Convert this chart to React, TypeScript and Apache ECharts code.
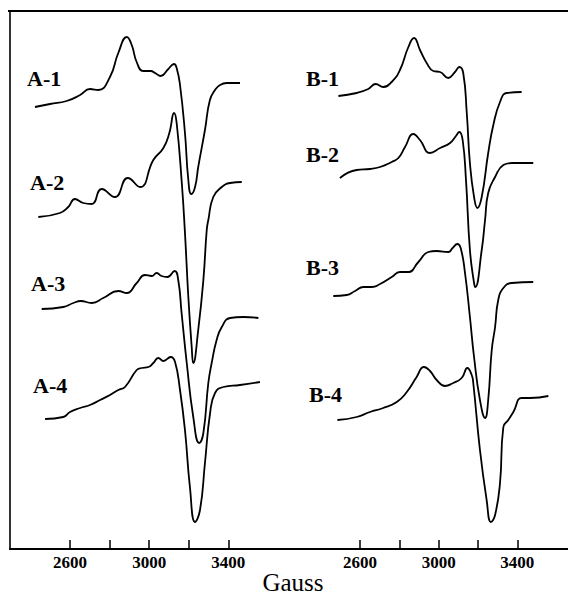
import React, { useEffect, useRef } from "react";
import * as echarts from "echarts";

// Magnetic field (Gauss) and derivative signal (relative units, baseline at left = 0)
const fieldA1 = [2423, 2499, 2583, 2651, 2701, 2743, 2802, 2844, 2887, 2912, 2937, 2970, 3008, 3030, 3058, 3097, 3126, 3139, 3156, 3181, 3198, 3213, 3232, 3248, 3282, 3307, 3333, 3358, 3392, 3459];
const signalA1 = [0, 3, 6, 12, 18, 17, 30, 54, 70, 62, 45, 36, 36, 34, 31, 38, 43, 39, 22, -26, -73, -87, -80, -60, -23, 7, 17, 22, 24, 24];

const fieldA2 = [2440, 2549, 2591, 2625, 2667, 2710, 2760, 2827, 2892, 2954, 3021, 3072, 3102, 3126, 3139, 3165, 3181, 3198, 3215, 3223, 3248, 3274, 3291, 3299, 3324, 3367, 3409, 3468];
const signalA2 = [0, 4, 10, 18, 14, 13, 28, 20, 39, 30, 57, 69, 84, 104, 94, 34, -16, -80, -130, -146, -113, -63, -13, -3, 20, 30, 34, 35];

const fieldA3 = [2457, 2566, 2617, 2654, 2710, 2768, 2844, 2887, 2937, 2979, 3013, 3038, 3063, 3092, 3129, 3147, 3164, 3190, 3223, 3253, 3274, 3299, 3316, 3341, 3367, 3409, 3476, 3552];
const signalA3 = [0, 2, 6, 8, 6, 11, 18, 16, 26, 34, 33, 36, 33, 32, 38, 29, -4, -54, -108, -134, -124, -74, -54, -31, -18, -9, -8, -9];

const fieldA4 = [2474, 2566, 2600, 2651, 2701, 2752, 2802, 2844, 2878, 2937, 2962, 2996, 3021, 3046, 3072, 3109, 3131, 3156, 3181, 3206, 3232, 3257, 3282, 3308, 3333, 3375, 3459, 3560];
const signalA4 = [0, 2, 7, 11, 14, 19, 24, 29, 32, 49, 51, 52, 56, 61, 58, 62, 57, 29, -11, -68, -103, -91, -44, 6, 26, 32, 34, 37];

const fieldB1 = [2490, 2583, 2642, 2680, 2718, 2761, 2803, 2846, 2875, 2905, 2939, 2973, 3007, 3049, 3083, 3105, 3125, 3143, 3159, 3180, 3197, 3219, 3252, 3278, 3312, 3346, 3422];
const signalB1 = [0, 3, 7, 12, 9, 14, 26, 49, 58, 46, 33, 25, 24, 18, 24, 29, 23, -17, -67, -101, -112, -101, -57, -29, -6, 3, 4];

const fieldB2 = [2498, 2583, 2651, 2702, 2761, 2795, 2829, 2871, 2905, 2956, 3007, 3058, 3088, 3105, 3122, 3139, 3159, 3180, 3186, 3219, 3236, 3252, 3287, 3329, 3372, 3481];
const signalB2 = [0, 8, 9, 11, 16, 20, 31, 44, 38, 25, 30, 35, 42, 46, 38, -2, -72, -105, -109, -72, -42, -15, 1, 13, 15, 15];

const fieldB3 = [2464, 2532, 2575, 2617, 2660, 2702, 2761, 2803, 2846, 2897, 2947, 2990, 3049, 3071, 3095, 3112, 3134, 3159, 3180, 3210, 3236, 3252, 3270, 3287, 3303, 3329, 3372, 3481];
const signalB3 = [0, 1, 5, 9, 9, 12, 19, 24, 24, 34, 44, 45, 44, 48, 52, 48, 23, -21, -61, -104, -122, -104, -54, -31, -4, 8, 13, 14];

const fieldB4 = [2485, 2583, 2651, 2718, 2787, 2838, 2888, 2925, 2956, 2990, 3032, 3074, 3117, 3146, 3168, 3176, 3210, 3244, 3266, 3287, 3312, 3329, 3354, 3380, 3422, 3465, 3558];
const signalB4 = [0, 3, 8, 12, 18, 28, 43, 53, 49, 40, 34, 37, 42, 52, 45, 37, -30, -80, -102, -95, -63, -7, 0, 8, 22, 22, 24];

// Vertical offsets of each trace (stacking)
const offsetsA = [442, 332, 240, 130];
const offsetsB = [453, 371, 253, 129];

const labelsA = ["A-1", "A-2", "A-3", "A-4"];
const labelsB = ["B-1", "B-2", "B-3", "B-4"];

const tickValues = [2600, 2800, 3000, 3200, 3400];
const tickLabelValues = [2600, 3000, 3400];
const xTitle = "Gauss";

const tracesA = [
  [fieldA1, signalA1],
  [fieldA2, signalA2],
  [fieldA3, signalA3],
  [fieldA4, signalA4],
];
const tracesB = [
  [fieldB1, signalB1],
  [fieldB2, signalB2],
  [fieldB3, signalB3],
  [fieldB4, signalB4],
];

const serif = "'Liberation Serif', 'DejaVu Serif', serif";

export default function App() {
  const ref = useRef<HTMLDivElement>(null);
  useEffect(() => {
    if (!ref.current) return;
    const chart = echarts.init(ref.current, null, { renderer: "svg" });

    const makeSeries = (traces: number[][][], offsets: number[], gi: number) =>
      traces.map(([f, s], i) => ({
        type: "line",
        xAxisIndex: gi,
        yAxisIndex: gi,
        data: f.map((g, k) => [g, offsets[i] + s[k]]),
        smooth: 0.5,
        showSymbol: false,
        symbol: "none",
        clip: false,
        lineStyle: { color: "#000", width: 1.8 },
      }));

    const xAxisBase = (gi: number, min: number, max: number) => ({
      type: "value",
      gridIndex: gi,
      min,
      max,
      axisLine: { show: true, lineStyle: { color: "#000", width: 2 } },
      axisTick: {
        show: true,
        inside: true,
        length: 9,
        customValues: tickValues,
        lineStyle: { color: "#000", width: 1.5 },
      },
      axisLabel: {
        customValues: tickLabelValues,
        formatter: (v: number) => String(v),
        color: "#000",
        fontFamily: serif,
        fontWeight: "bold",
        fontSize: 17,
        margin: 5,
      },
      splitLine: { show: false },
    });

    const textEl = (t: string, x: number, y: number) => ({
      type: "text",
      x,
      y,
      style: {
        text: t,
        fill: "#000",
        font: `bold 22px ${serif}`,
        textAlign: "left",
        textVerticalAlign: "middle",
      },
    });

    const labelYA = [78, 182, 283, 385];
    const labelYB = [78, 154, 267, 394];

    chart.setOption({
      animation: false,
      backgroundColor: "#fff",
      grid: [
        { left: 10, top: 11, width: 280, height: 538 },
        { left: 290, top: 11, width: 278, height: 538 },
      ],
      xAxis: [xAxisBase(0, 2296.8, 3711.8), xAxisBase(1, 2244, 3657.8)],
      yAxis: [
        { type: "value", gridIndex: 0, min: 0, max: 538, show: false },
        { type: "value", gridIndex: 1, min: 0, max: 538, show: false },
      ],
      series: [...makeSeries(tracesA, offsetsA, 0), ...makeSeries(tracesB, offsetsB, 1)],
      graphic: [
        { type: "line", shape: { x1: 8, y1: 11, x2: 568, y2: 11 }, style: { stroke: "#000", lineWidth: 2 } },
        { type: "line", shape: { x1: 10, y1: 10, x2: 10, y2: 550 }, style: { stroke: "#000", lineWidth: 1.6 } },
        ...labelsA.map((t, i) => textEl(t, [27, 30, 31, 33][i], labelYA[i])),
        ...labelsB.map((t, i) => textEl(t, [306, 306, 306, 309][i], labelYB[i])),
        {
          type: "text",
          x: 293,
          y: 582,
          style: {
            text: xTitle,
            fill: "#000",
            font: `25px ${serif}`,
            textAlign: "center",
            textVerticalAlign: "middle",
          },
        },
      ],
    });
    return () => chart.dispose();
  }, []);
  return <div ref={ref} style={{ width: 568, height: 600, position: "absolute", left: 0, top: 0 }} />;
}
